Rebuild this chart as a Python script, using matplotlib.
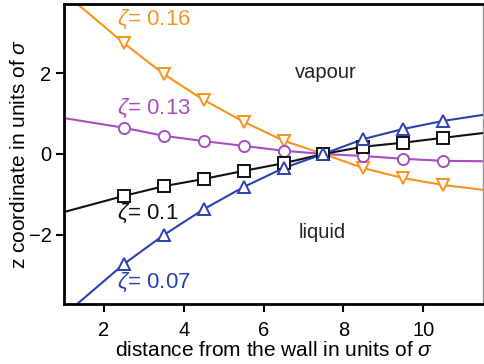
import numpy as np
import matplotlib
matplotlib.use("Agg")
import matplotlib.pyplot as plt

plt.rcParams['font.family'] = ['Liberation Sans', 'DejaVu Sans']
plt.rcParams['mathtext.fontset'] = 'custom'
plt.rcParams['mathtext.rm'] = 'Liberation Sans'
plt.rcParams['mathtext.it'] = 'Liberation Sans:italic'

# curve values (line runs from the left edge to the right edge)
x_line = [1.0, 2.5, 3.5, 4.5, 5.5, 6.5, 7.5, 8.5, 9.5, 10.5, 11.5]
z_016 = [4.0, 2.75, 1.98, 1.34, 0.80, 0.33, 0.0, -0.35, -0.60, -0.77, -0.89]
z_013 = [0.89, 0.65, 0.45, 0.32, 0.20, 0.08, 0.0, -0.05, -0.12, -0.17, -0.18]
z_010 = [-1.44, -1.04, -0.80, -0.62, -0.42, -0.23, 0.0, 0.18, 0.28, 0.40, 0.52]
z_007 = [-4.0, -2.73, -2.01, -1.37, -0.82, -0.35, 0.0, 0.37, 0.62, 0.82, 0.97]

# markers sit at the half-integer distances
x_mark = [2.5, 3.5, 4.5, 5.5, 6.5, 7.5, 8.5, 9.5, 10.5]

series = [
    (z_016, "#F7941D", "v", r"$\zeta$= 0.16", 3.33),
    (z_013, "#A84DC2", "o", r"$\zeta$= 0.13", 1.14),
    (z_010, "#111111", "s", r"$\zeta$= 0.1", -1.46),
    (z_007, "#2B40B2", "^", r"$\zeta$= 0.07", -3.18),
]

fig = plt.figure(figsize=(4.85, 3.64), dpi=100)
ax = fig.add_axes([0.132, 0.165, 0.864, 0.824])

for z, col, mk, lab, ty in series:
    ax.plot(x_line, z, '-', color=col, lw=1.5, zorder=2)
    zm = z[1:-1]
    ax.plot(x_mark, zm, linestyle='none', marker=mk, markersize=8,
            markerfacecolor='white', markeredgecolor=col, markeredgewidth=1.4, zorder=3)
    ax.text(2.33, ty, lab, color=col, fontsize=16, ha='left', va='center')

ax.text(7.55, 2.03, "vapour", fontsize=14.5, ha='center', va='center', color='#222222')
ax.text(7.48, -1.94, "liquid", fontsize=14.5, ha='center', va='center', color='#222222')

ax.set_xlim(1.0, 11.5)
ax.set_ylim(-3.72, 3.72)
ax.set_xticks([2, 4, 6, 8, 10])
ax.set_yticks([-2, 0, 2])
ax.tick_params(direction='out', length=6, width=1.5, labelsize=14.5, pad=3)
ax.tick_params(axis='x', pad=6)

for s in ['left', 'bottom', 'top']:
    ax.spines[s].set_linewidth(2)
    ax.spines[s].set_color('black')
ax.spines['right'].set_color('#999999')
ax.spines['right'].set_linewidth(1)

ax.set_xlabel(r"distance from the wall in units of $\sigma$", fontsize=15, labelpad=1)
ax.set_ylabel(r"z coordinate in units of $\sigma$", fontsize=15, labelpad=0)

fig.savefig("out.png", dpi=100)
